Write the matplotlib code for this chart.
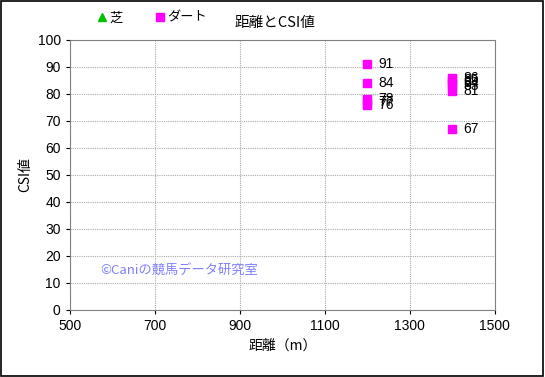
import matplotlib.pyplot as plt
from matplotlib.lines import Line2D

plt.rcParams['font.family'] = ['Noto Sans CJK JP', 'DejaVu Sans']

# ダートのデータ (距離, CSI値)
dirt_dist = [1200, 1200, 1200, 1200, 1200, 1400, 1400, 1400, 1400, 1400, 1400]
dirt_csi = [91, 84, 78, 77, 76, 86, 85, 84, 83, 81, 67]

# 芝のデータ (なし)
turf_dist = []
turf_csi = []

x_ticks = [500, 700, 900, 1100, 1300, 1500]
y_ticks = list(range(0, 101, 10))

fig = plt.figure(figsize=(5.45, 3.77), dpi=100)
ax = fig.add_axes([0.128, 0.178, 0.78, 0.716])

ax.plot(turf_dist, turf_csi, linestyle='none', marker='^', color='#00c000',
        markersize=6)
ax.plot(dirt_dist, dirt_csi, linestyle='none', marker='s', color='#ff00ff',
        markersize=6)

for x, y in zip(dirt_dist, dirt_csi):
    ax.annotate(str(y), (x, y), xytext=(8, 0), textcoords='offset points',
                va='center', ha='left', fontsize=10, family=['Liberation Sans'])

ax.set_xlim(500, 1500)
ax.set_ylim(0, 100)
ax.set_xticks(x_ticks)
ax.set_yticks(y_ticks)
ax.tick_params(labelsize=10, length=3)
for lab in ax.get_xticklabels() + ax.get_yticklabels():
    lab.set_family(['Liberation Sans'])
ax.grid(True, color='#aaaaaa', linestyle=(0, (1, 1)), linewidth=0.8)
for s in ax.spines.values():
    s.set_color('#808080')

ax.set_xlabel('距離（m）', fontsize=10)
ax.set_ylabel('CSI値', fontsize=10)

ax.text(571, 14.8, '©Caniの競馬データ研究室', color='#8080ff', fontsize=9.5,
        va='center', ha='left')

fig.text(0.505, 0.94, '距離とCSI値', fontsize=10.5, ha='center', va='center')

handles = [Line2D([], [], linestyle='none', marker='^', color='#00c000', markersize=6),
           Line2D([], [], linestyle='none', marker='s', color='#ff00ff', markersize=6)]
fig.legend(handles, ['芝', 'ダート'], loc='center', bbox_to_anchor=(0.28, 0.952),
           ncol=2, frameon=False, fontsize=9.5, handlelength=0.6, handletextpad=0.2,
           columnspacing=2.6)

fig.patches.append(plt.Rectangle((0.002, 0.003), 0.995, 0.994, transform=fig.transFigure,
                                 fill=False, edgecolor='black', linewidth=1.2))

fig.savefig('out.png', dpi=100)
